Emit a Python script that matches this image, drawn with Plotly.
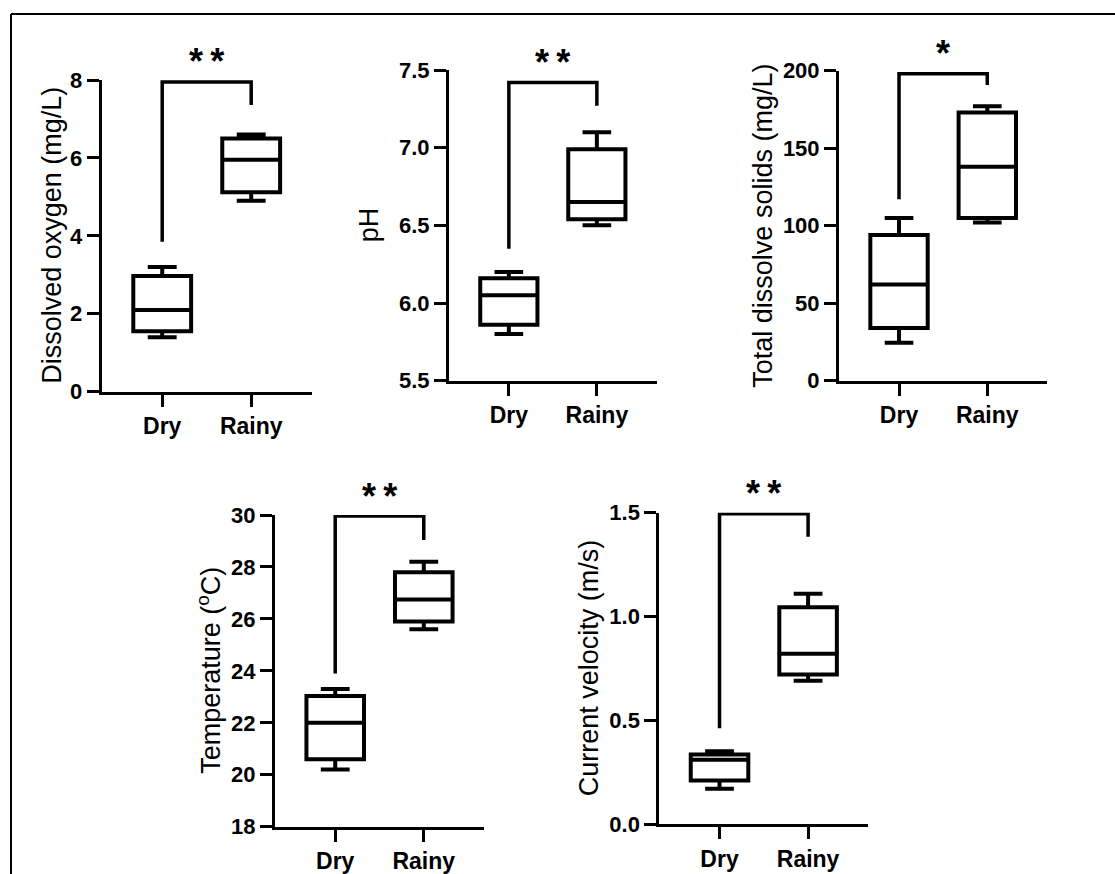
import plotly.graph_objects as go

# ---------------- data ----------------
categories = ["Dry", "Rainy"]

do_lower = [1.4, 4.9]
do_q1 = [1.55, 5.12]
do_median = [2.1, 5.95]
do_q3 = [2.97, 6.5]
do_upper = [3.2, 6.6]
do_bracket = [3.85, 7.95, 7.95, 7.36]

ph_lower = [5.8, 6.5]
ph_q1 = [5.86, 6.54]
ph_median = [6.05, 6.65]
ph_q3 = [6.16, 6.99]
ph_upper = [6.2, 7.1]
ph_bracket = [6.35, 7.42, 7.42, 7.27]

tds_lower = [24.5, 102]
tds_q1 = [34, 105]
tds_median = [62, 138]
tds_q3 = [94, 173]
tds_upper = [105, 177]
tds_bracket = [117, 198, 198, 190.8]

temp_lower = [20.2, 25.6]
temp_q1 = [20.6, 25.9]
temp_median = [22.0, 26.75]
temp_q3 = [23.03, 27.8]
temp_upper = [23.3, 28.2]
temp_bracket = [23.9, 29.96, 29.96, 29.04]

cv_lower = [0.17, 0.69]
cv_q1 = [0.21, 0.72]
cv_median = [0.31, 0.82]
cv_q3 = [0.335, 1.045]
cv_upper = [0.35, 1.11]
cv_bracket = [0.461, 1.495, 1.495, 1.384]

y_titles = ["Dissolved oxygen (mg/L)", "pH", "Total dissolve solids (mg/L)",
            "Temperature (<sup>o</sup>C)", "Current velocity (m/s)"]
y_ranges = [[0, 8], [5.5, 7.5], [0, 200], [18, 30], [0, 1.5]]
y_dticks = [2, 0.5, 50, 2, 0.5]
y_formats = ["d", ".1f", "d", "d", ".1f"]
significance = ["*\u2009*", "*\u2009*", "*", "*\u2009*", "*\u2009*"]

stats = [
    (do_lower, do_q1, do_median, do_q3, do_upper, do_bracket),
    (ph_lower, ph_q1, ph_median, ph_q3, ph_upper, ph_bracket),
    (tds_lower, tds_q1, tds_median, tds_q3, tds_upper, tds_bracket),
    (temp_lower, temp_q1, temp_median, temp_q3, temp_upper, temp_bracket),
    (cv_lower, cv_q1, cv_median, cv_q3, cv_upper, cv_bracket),
]

# ---------------- layout geometry (page pixels) ----------------
W, H = 1115, 874


def px(x):
    return x / W


def py(y):
    return 1 - y / H


# (x_left, x_right, y_top, y_bottom, title_x)
geom = [
    (101.7, 311.7, 80.0, 391.7, 52),
    (449.0, 656.7, 70.0, 380.7, 369),
    (839.0, 1047.3, 70.7, 380.7, 763),
    (275.0, 484.0, 515.0, 826.7, 209),
    (659.3, 868.3, 512.7, 824.0, 589),
]

FONT = "Liberation Sans, Arial, Helvetica, sans-serif"
fig = go.Figure()
layout = dict(
    width=W, height=H,
    margin=dict(l=0, r=0, t=0, b=0, pad=0),
    paper_bgcolor="white", plot_bgcolor="white",
    showlegend=False,
    font=dict(family=FONT, color="black"),
)
annotations = []
shapes = []

for i, (st, g) in enumerate(zip(stats, geom)):
    n = i + 1
    xa = "x" if n == 1 else f"x{n}"
    ya = "y" if n == 1 else f"y{n}"
    lo, q1, med, q3, up, br = st
    x0, x1, yt, yb, tx = g
    fig.add_trace(go.Box(
        x=categories, q1=q1, median=med, q3=q3,
        lowerfence=lo, upperfence=up,
        width=0.65, whiskerwidth=0.5,
        line=dict(color="black", width=4), fillcolor="white",
        xaxis=xa, yaxis=ya, hoverinfo="skip",
    ))
    fig.add_trace(go.Scatter(
        x=[categories[0], categories[0], categories[1], categories[1]], y=br,
        mode="lines", line=dict(color="black", width=3.5),
        xaxis=xa, yaxis=ya, hoverinfo="skip",
    ))
    layout["xaxis" if n == 1 else f"xaxis{n}"] = dict(
        domain=[px(x0), px(x1)], anchor=ya, automargin=False,
        type="category", range=[-0.68, 1.68],
        showline=True, linecolor="black", linewidth=3,
        ticks="outside", ticklen=12, tickwidth=3, tickcolor="black",
        tickfont=dict(family=FONT, size=23, color="black", weight="bold"),
        showgrid=False, zeroline=False, fixedrange=True,
    )
    layout["yaxis" if n == 1 else f"yaxis{n}"] = dict(
        domain=[py(yb), py(yt)], anchor=xa, automargin=False,
        range=y_ranges[i], dtick=y_dticks[i], tick0=y_ranges[i][0],
        tickformat=y_formats[i],
        showline=True, linecolor="black", linewidth=3,
        ticks="outside", ticklen=12, tickwidth=3, tickcolor="black",
        tickfont=dict(family=FONT, size=22, color="black", weight="bold"),
        showgrid=False, zeroline=False, fixedrange=True,
    )
    annotations.append(dict(
        text=y_titles[i], textangle=-90,
        xref="paper", yref="paper",
        x=px(tx), y=py((yt + yb) / 2),
        xanchor="center", yanchor="middle", showarrow=False,
        font=dict(family=FONT, size=27, color="black"),
    ))
    annotations.append(dict(
        text=significance[i], xref=xa, yref=ya,
        x=0.5, y=br[1], xanchor="center", yanchor="middle",
        yshift=20, showarrow=False,
        font=dict(family=FONT, size=36, color="black", weight="bold"),
    ))

# outer frame (left and top edges)
shapes.append(dict(type="line", xref="paper", yref="paper",
                   x0=px(11), x1=px(11), y0=py(H), y1=py(14),
                   line=dict(color="black", width=2)))
shapes.append(dict(type="line", xref="paper", yref="paper",
                   x0=px(11), x1=px(W), y0=py(14), y1=py(14),
                   line=dict(color="black", width=2)))

layout["annotations"] = annotations
layout["shapes"] = shapes
fig.update_layout(**layout)
fig.write_html(
    "out.html",
    config={"displayModeBar": False},
    post_script=(
        "document.body.style.margin='0';"
        "document.documentElement.style.overflow='hidden';"
        "document.body.style.overflow='hidden';"
    ),
)
